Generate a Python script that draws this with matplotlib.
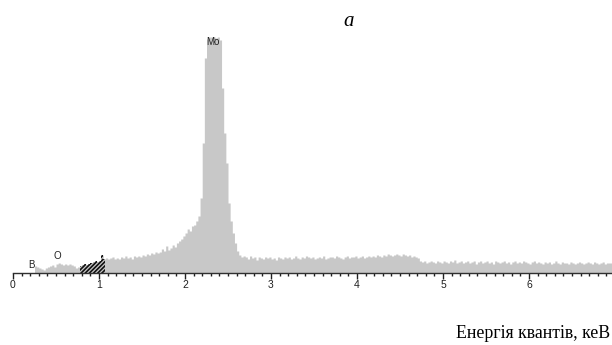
import numpy as np
import matplotlib
matplotlib.use('Agg')
import matplotlib.pyplot as plt
from matplotlib.ticker import MultipleLocator

# EDS spectrum, 0.025 keV channels starting at 0.2 keV (counts, arbitrary units)
channel_start = 0.2
channel_width = 0.025
counts = [
    0, 0, 7, 6, 5, 4, 3, 5, 6, 7,
    8, 6, 9, 10, 9, 8, 9, 8, 9, 8,
    7, 5, 6, 7, 8, 9, 8, 9, 10, 11,
    12, 11, 12, 18, 14, 15, 14, 15, 16, 14,
    15, 14, 16, 15, 17, 15, 16, 14, 17, 16,
    17, 16, 18, 17, 19, 18, 20, 19, 21, 20,
    21, 24, 22, 27, 23, 25, 28, 26, 30, 32,
    34, 37, 40, 44, 42, 47, 48, 52, 57, 75,
    130, 215, 234, 236, 236, 236, 235, 236, 233, 185,
    140, 110, 70, 52, 40, 30, 22, 18, 16, 17,
    16, 14, 17, 15, 16, 13, 16, 15, 14, 16,
    15, 16, 14, 15, 13, 16, 15, 14, 16, 15,
    16, 14, 15, 17, 15, 14, 16, 15, 17, 16,
    15, 16, 14, 15, 16, 15, 17, 14, 15, 16,
    16, 15, 17, 16, 15, 14, 16, 17, 15, 16,
    16, 17, 15, 16, 17, 15, 16, 17, 16, 17,
    16, 18, 17, 16, 18, 17, 19, 18, 17, 18,
    19, 18, 17, 19, 18, 17, 18, 16, 17, 16,
    15, 12, 11, 12, 10, 11, 12, 11, 10, 12,
    11, 10, 12, 11, 10, 12, 11, 13, 10, 11,
    12, 10, 11, 12, 10, 11, 12, 9, 11, 12,
    10, 11, 12, 10, 11, 9, 12, 11, 10, 11,
    12, 10, 11, 9, 11, 12, 10, 11, 10, 12,
    11, 10, 9, 11, 12, 10, 11, 10, 9, 11,
    10, 11, 9, 10, 12, 10, 9, 11, 10, 10,
    9, 11, 10, 9, 10, 11, 10, 9, 10, 11,
    10, 9, 11, 10, 9, 10, 11, 9, 10, 10,
    10,
]

# marked region (hatched) in keV
hatch_lo, hatch_hi = 0.775, 1.075

# element labels: name, energy (keV), counts level
peak_names = ['B', 'O', 'Mo']
peak_energy = [0.21, 0.52, 2.32]
peak_level = [3, 12, 226]

x_ticks = [0, 1, 2, 3, 4, 5, 6]
title = 'a'
x_label = 'Енергія квантів, кеВ'

counts = np.array(counts, dtype=float)
energy = channel_start + channel_width * np.arange(len(counts) + 1)
levels = np.append(counts, counts[-1])

fig = plt.figure(figsize=(6.12, 3.45), dpi=100)
ax = fig.add_axes([13 / 612, 72 / 345, 599 / 612, 240 / 345])

gray = '#c8c8c8'
ax.fill_between(energy, 0, levels, step='post', color=gray, linewidth=0)

# hatched region
mask = (energy >= hatch_lo) & (energy <= hatch_hi)
plt.rcParams['hatch.linewidth'] = 1.2
ax.fill_between(energy[mask], 0, levels[mask], step='post', facecolor=gray,
                edgecolor='#101010', hatch='////////', linewidth=0)

for name, e, lv in zip(peak_names, peak_energy, peak_level):
    ax.text(e, lv, name, ha='center', va='bottom', fontsize=7,
            family='Liberation Sans', color='#202020')

ax.set_xlim(0, 599 / 86)
ax.set_ylim(0, 240)

for s in ['top', 'left', 'right']:
    ax.spines[s].set_visible(False)
ax.spines['bottom'].set_color('#303030')
ax.spines['bottom'].set_linewidth(1.0)
ax.set_yticks([])
ax.set_xticks(x_ticks)
ax.set_xticklabels([str(t) for t in x_ticks], fontsize=7.5, family='Liberation Sans')
ax.xaxis.set_minor_locator(MultipleLocator(0.1))
ax.tick_params(axis='x', which='major', length=4, width=1, direction='out', pad=1, colors='#202020')
ax.tick_params(axis='x', which='minor', length=2, width=1, direction='out', colors='#202020')

fig.text(349 / 612, 1 - 22 / 345, title, ha='center', va='center', fontsize=15,
         style='italic', family='Liberation Serif')
fig.text(610 / 612, 1 - 333 / 345, x_label, ha='right', va='center', fontsize=12.8,
         family='Liberation Serif')

fig.savefig('out.png', dpi=100)
